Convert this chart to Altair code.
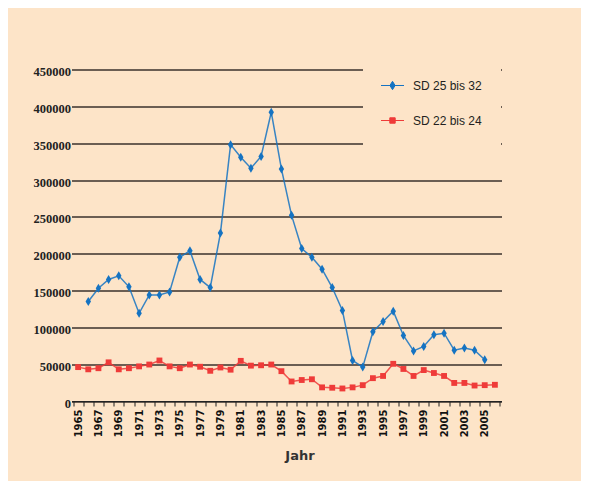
import altair as alt
import pandas as pd

series_names = ["SD 25 bis 32", "SD 22 bis 24"]
all_years = list(range(1965, 2007))

sd2532_years = list(range(1966, 2006))
sd2532 = [135000, 153000, 165000, 170000, 155000, 119000, 144000, 144000, 148000, 195000,
          204000, 165000, 154000, 228000, 348000, 331000, 316000, 332000, 392000, 315000,
          252000, 207000, 195000, 179000, 154000, 123000, 55000, 46000, 94000, 108000,
          122000, 89000, 68000, 74000, 90000, 92000, 69000, 72000, 69000, 56000]

sd2224_years = list(range(1965, 2007))
sd2224 = [46000, 43000, 44500, 52500, 43000, 44500, 47000, 49500, 55000, 47000,
          44500, 49500, 46500, 41000, 45500, 42500, 54500, 48000, 48500, 49500,
          40500, 26500, 28500, 29500, 18500, 18000, 17000, 18500, 21500, 31000,
          34000, 50500, 43500, 34000, 42000, 38000, 34000, 24500, 24500, 21000,
          21500, 22000]

y_ticks = [0, 50000, 100000, 150000, 200000, 250000, 300000, 350000, 400000, 450000]

df = pd.concat([
    pd.DataFrame({"Jahr": sd2532_years, "Wert": sd2532, "Serie": series_names[0]}),
    pd.DataFrame({"Jahr": sd2224_years, "Wert": sd2224, "Serie": series_names[1]}),
], ignore_index=True)

peach = "#FDE4C8"
blue = "#1573C2"
red = "#EF3B39"

diamond = "M0,-1L0.6,0L0,1L-0.6,0Z"
square = "M-0.65,-0.65L0.65,-0.65L0.65,0.65L-0.65,0.65Z"
leg_diamond = "M-1.15,0L1.15,0M0,-0.42L0.26,0L0,0.42L-0.26,0Z"
leg_square = "M-1.15,0L1.15,0M-0.27,-0.27L0.27,-0.27L0.27,0.27L-0.27,0.27Z"

legend = alt.Legend(
    title=None, orient="none", legendX=291.5, legendY=-13.5,
    fillColor=peach, padding=19, symbolSize=400, rowPadding=18, labelOffset=10,
    labelFont="Liberation Sans", labelFontSize=12, labelColor="#231f20",
    symbolStrokeWidth=1, symbolOpacity=1,
    symbolType={"expr": f"datum.value === '{series_names[0]}' ? '{leg_diamond}' : '{leg_square}'"},
    symbolStrokeColor={"expr": "scale('color', datum.value)"},
    symbolFillColor={"expr": "scale('color', datum.value)"},
)

x_enc = alt.X(
    "Jahr:O", bandPosition=0.5,
    scale=alt.Scale(type="band", domain=all_years, paddingInner=0, paddingOuter=0.15),
    axis=alt.Axis(
        title="Jahr", tickBand="extent", labelAngle=270,
        labelExpr="datum.value % 2 == 1 ? datum.label : ''",
        labelOverlap=False, labelFont="DejaVu Sans", labelFontWeight="bold",
        labelFontSize=10, labelColor="#111111", labelPadding=3,
        tickSize=5, tickColor="#222222", domainColor="#222222", tickWidth=1,
        titleFont="DejaVu Sans", titleFontWeight="bold", titleFontSize=13,
        titleColor="#333333", titleX=228, titleY=58, titleBaseline="alphabetic",
        titleAlign="center", grid=False,
    ),
)

y_enc = alt.Y(
    "Wert:Q",
    scale=alt.Scale(domain=[0, 450000], nice=False),
    axis=alt.Axis(
        title=None, values=y_ticks, format="d", grid=True, gridColor="#3a322c",
        gridWidth=1.3, domain=False, ticks=False, labelPadding=1, labelOffset=2,
        labelFont="Liberation Sans Narrow", labelFontWeight="bold", labelFontSize=12.5,
        labelColor="#222222",
    ),
)

color_enc = alt.Color("Serie:N", scale=alt.Scale(domain=series_names, range=[blue, red]),
                      legend=legend)

base = alt.Chart(df)

lines = base.mark_line(strokeWidth=1.5, opacity=0.85).encode(
    x=x_enc, y=y_enc, color=color_enc, detail="Serie:N")

points_blue = base.transform_filter(
    alt.datum.Serie == series_names[0]
).mark_point(filled=True, opacity=1, size=81, shape=diamond).encode(
    x=x_enc, y=y_enc, color=color_enc)

points_red = base.transform_filter(
    alt.datum.Serie == series_names[1]
).mark_point(filled=True, opacity=1, size=81, shape=square).encode(
    x=x_enc, y=y_enc, color=color_enc)

chart = alt.layer(lines, points_blue, points_red).properties(
    width=430, height=331.5, background=peach,
    autosize=alt.AutoSizeParams(type="none"),
    padding={"left": 63.5, "top": 61.5, "right": 79.5, "bottom": 80},
).configure_view(stroke=None)

chart.save("out.html", embed_options={"renderer": "svg", "actions": False})
